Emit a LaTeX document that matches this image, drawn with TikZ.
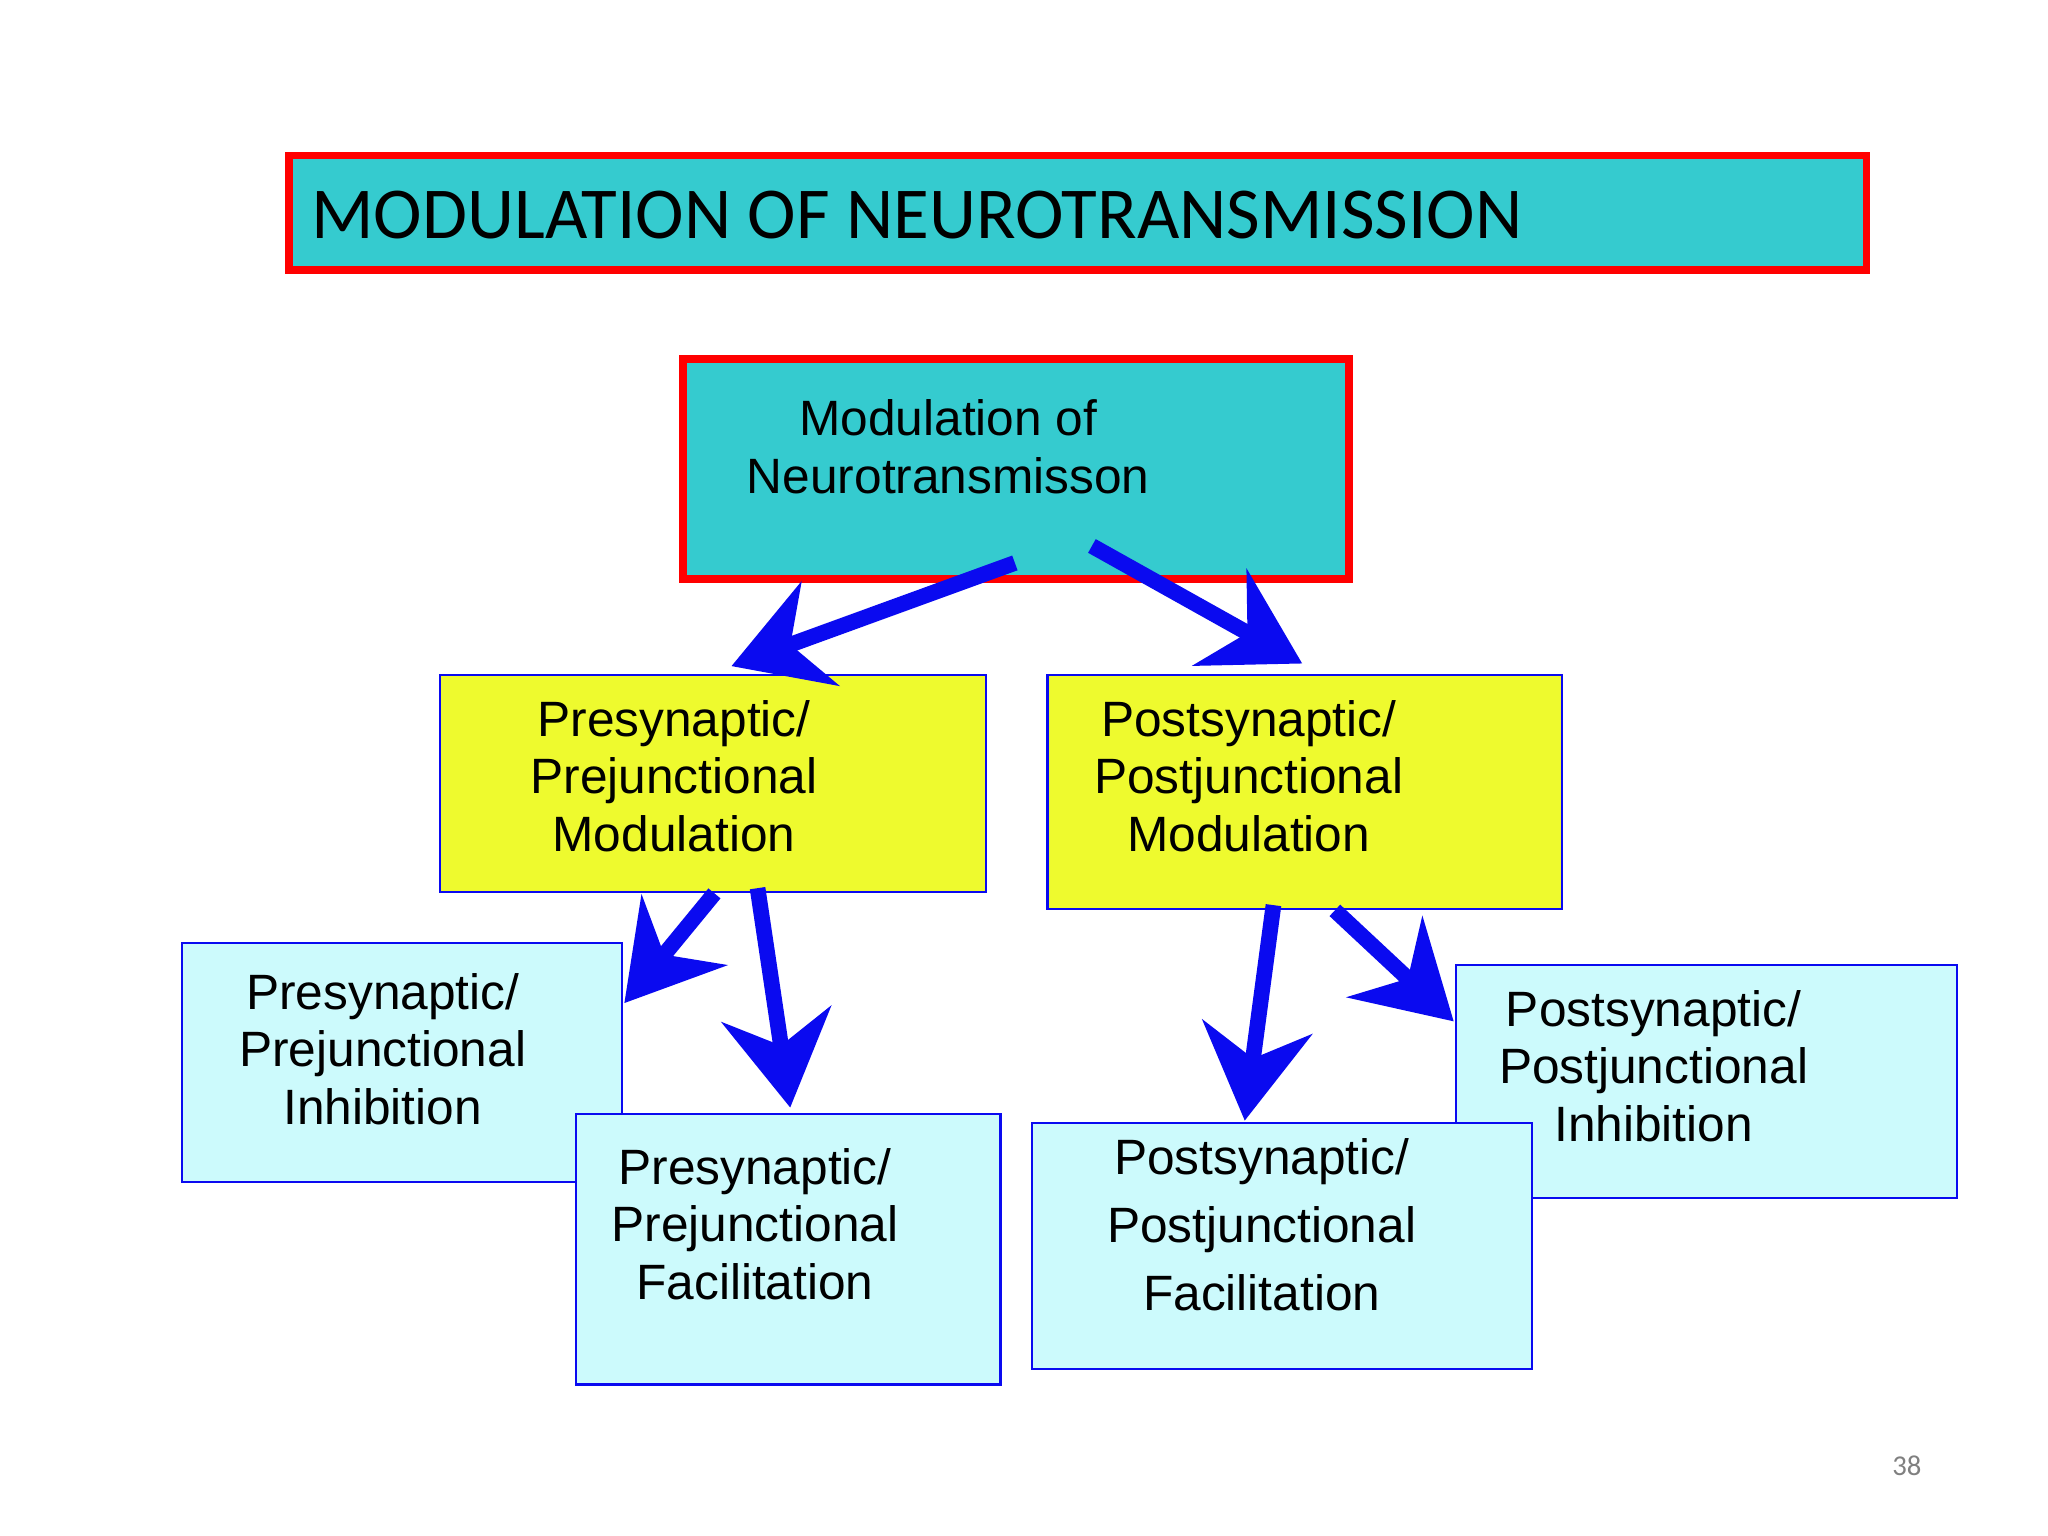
\documentclass[tikz,border=0pt]{standalone}
\usepackage{fontspec}
\setmainfont{Liberation Sans}
\newfontfamily\carlitofont{Carlito}
\usetikzlibrary{arrows.meta}
\definecolor{teal1}{HTML}{35CBCF}
\definecolor{yel}{HTML}{EEFA2E}
\definecolor{lcy}{HTML}{CCFAFC}
\definecolor{bl}{HTML}{0A0AF0}
\begin{document}
\begin{tikzpicture}[x=0.5pt,y=-0.5pt,
 box/.style={draw=bl,line width=0.8pt},
 txt/.style={align=center,font=\fontsize{19}{22}\selectfont,inner sep=0},
 arr/.style={draw=bl,line width=6pt,-{Stealth[length=36pt,width=42pt,inset=12pt]}}]
\useasboundingbox (0,0) rectangle (1568,1176);
\fill[white] (0,0) rectangle (1568,1176);
\draw[fill=teal1,draw=red,line width=3pt] (221,119) rectangle (1429,207);
\node[anchor=west,inner sep=0,font=\carlitofont\fontsize{28}{30}\selectfont] (title) at (238,165) {MODULATION OF NEUROTRANSMISSION};
\draw[fill=teal1,draw=red,line width=3pt] (523,275) rectangle (1033,443);
\node[txt] (top) at (726,342) {Modulation of\\Neurotransmisson};
\path[box,fill=yel] (337,517) rectangle (755,683);
\node[txt] (pre) at (516,594) {Presynaptic/\\Prejunctional\\Modulation};
\path[box,fill=yel] (802,517) rectangle (1196,696);
\node[txt] (post) at (956,594) {Postsynaptic/\\Postjunctional\\Modulation};
\path[box,fill=lcy] (139,722) rectangle (476,905);
\node[txt] (pi) at (293,803) {Presynaptic/\\Prejunctional\\Inhibition};
\path[box,fill=lcy] (441,853) rectangle (766,1060);
\node[txt] (pf) at (578,937) {Presynaptic/\\Prejunctional\\Facilitation};
\path[box,fill=lcy] (1115,739) rectangle (1498,917);
\node[txt] (poi) at (1266,816) {Postsynaptic/\\Postjunctional\\Inhibition};
\path[box,fill=lcy] (790,860) rectangle (1173,1048);
\node[txt,font=\fontsize{19}{26}\selectfont] (pof) at (966,938) {Postsynaptic/\\Postjunctional\\Facilitation};
\node[font=\carlitofont\fontsize{11}{12}\selectfont,text=gray] (pg) at (1460,1122) {38};
\coordinate (a1) at (777,431); \coordinate (b1) at (560,510);
\coordinate (a2) at (836,418); \coordinate (b2) at (997,508);
\coordinate (a3) at (547,684); \coordinate (b3) at (478,768);
\coordinate (a4) at (580,680); \coordinate (b4) at (605,848);
\coordinate (a5) at (975,693); \coordinate (b5) at (953,858);
\coordinate (a6) at (1022,697); \coordinate (b6) at (1113,782);
\foreach \i in {1,...,6} \draw[arr] (a\i) -- (b\i);
\end{tikzpicture}
\end{document}
